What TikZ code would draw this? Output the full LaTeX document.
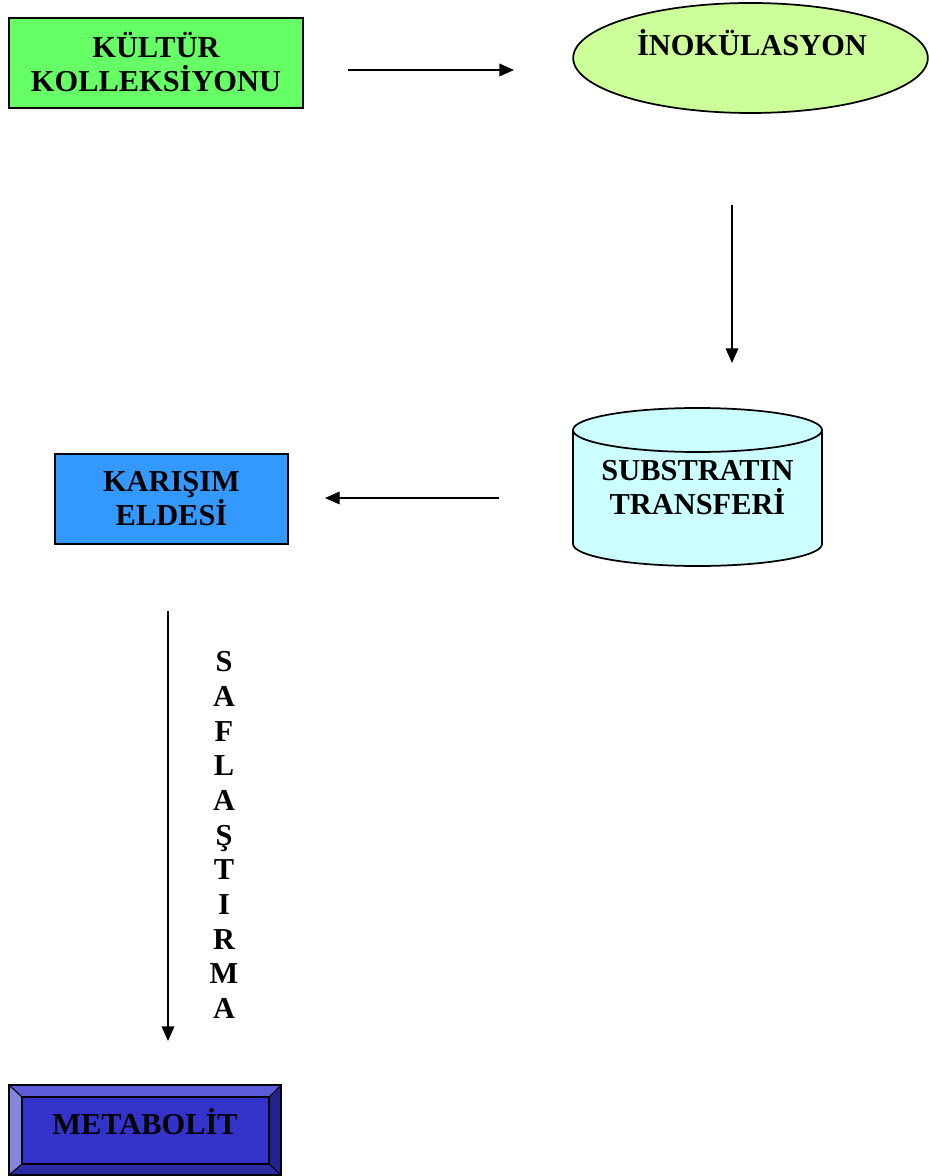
\documentclass[tikz,border=0pt]{standalone}
\usepackage{fontspec}
\setmainfont{Liberation Serif}
\usetikzlibrary{shapes.geometric,arrows.meta}
\definecolor{kgreen}{HTML}{66FF66}
\definecolor{lgreen}{HTML}{CCFF99}
\definecolor{lcyan}{HTML}{CCFFFF}
\definecolor{kblue}{HTML}{3399FF}
\definecolor{mblue}{HTML}{3333CC}
\definecolor{mtop}{HTML}{5C5CD8}
\definecolor{mleft}{HTML}{8585E0}
\definecolor{mright}{HTML}{23238C}
\definecolor{mbot}{HTML}{2B2BA6}
\tikzset{
  lbl/.style={font=\bfseries\fontsize{22.8}{25.5}\selectfont, align=center, inner sep=0pt},
  boxshape/.style={draw=black, line width=1.3pt, inner sep=0pt},
  arr/.style={line width=1pt, -{Triangle[length=11pt,width=9.5pt]}},
}
\begin{document}
\begin{tikzpicture}[x=0.75pt,y=-0.75pt]
\useasboundingbox (0,0) rectangle (928,1176);
% KULTUR box
\node[boxshape, fill=kgreen, minimum width=220.5pt, minimum height=67.5pt] (kultur) at (156,63) {};
\node[lbl] (kulturtxt) at (156,62) {KÜLTÜR\\KOLLEKSİYONU};
% INOKULASYON ellipse
\node[ellipse, draw=black, line width=1.3pt, fill=lgreen, minimum width=266pt, minimum height=82.5pt, inner sep=0pt] (ino) at (750.5,58) {};
\node[lbl] (inotxt) at (752,43) {İNOKÜLASYON};
% cylinder
\fill[lcyan] (573,430) -- (573,544) arc[start angle=180, end angle=360, x radius=124.5, y radius=-22] -- (822,430) -- cycle;
\draw[line width=1.3pt] (573,430) -- (573,544) arc[start angle=180, end angle=360, x radius=124.5, y radius=-22] -- (822,430);
\draw[line width=1.3pt, fill=lcyan] (697.5,430) ellipse[x radius=124.5, y radius=22];
\node[lbl] (sub) at (697.5,488) {SUBSTRATIN\\TRANSFERİ};
% KARISIM box
\node[boxshape, fill=kblue, minimum width=174.75pt, minimum height=67.5pt] (kar) at (171.5,499) {};
\node[lbl] (kartxt) at (171.5,498.5) {KARIŞIM\\ELDESİ};
% METABOLIT bevel box
\fill[mblue] (9,1085) rectangle (281,1175);
\fill[mtop] (9,1085) -- (281,1085) -- (269,1097) -- (22,1097) -- cycle;
\fill[mleft] (9,1085) -- (22,1097) -- (22,1164) -- (9,1175) -- cycle;
\fill[mright] (281,1085) -- (281,1175) -- (269,1164) -- (269,1097) -- cycle;
\fill[mbot] (9,1175) -- (281,1175) -- (269,1164) -- (22,1164) -- cycle;
\draw[line width=1.1pt] (9,1085) rectangle (281,1175);
\draw[line width=1.1pt] (22,1097) rectangle (269,1164);
\draw[line width=0.8pt] (9,1085) -- (22,1097) (281,1085) -- (269,1097) (9,1175) -- (22,1164) (281,1175) -- (269,1164);
\node[lbl] (meta) at (145,1122) {METABOLİT};
% connectors
\coordinate (a1s) at (348,70); \coordinate (a1e) at (514,70);
\coordinate (a2s) at (732,205); \coordinate (a2e) at (732,363);
\coordinate (a3s) at (499,498); \coordinate (a3e) at (325,498);
\coordinate (a4s) at (168,611); \coordinate (a4e) at (168,1041);
\draw[arr] (a1s) -- (a1e);
\draw[arr] (a2s) -- (a2e);
\draw[arr] (a3s) -- (a3e);
\draw[arr] (a4s) -- (a4e);
% vertical label
\node[lbl, font=\bfseries\fontsize{22.8}{26}\selectfont] (saf) at (224,835) {S\\A\\F\\L\\A\\Ş\\T\\I\\R\\M\\A};
\end{tikzpicture}
\end{document}
